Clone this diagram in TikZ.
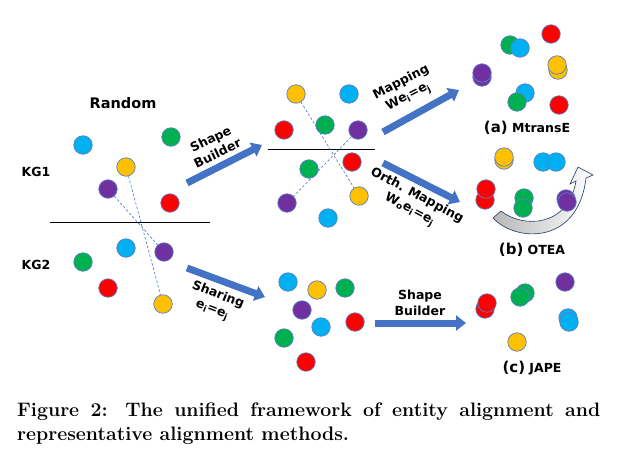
\documentclass[tikz,border=0pt]{standalone}
\usepackage{fontspec}
\setsansfont{DejaVu Sans}
\usetikzlibrary{arrows.meta}
\definecolor{kgBlue}{HTML}{00B0F0}
\definecolor{kgGreen}{HTML}{00B050}
\definecolor{kgYellow}{HTML}{FFC000}
\definecolor{kgPurple}{HTML}{7030A0}
\definecolor{kgRed}{HTML}{FF0000}
\definecolor{rimBlue}{HTML}{5B7FC7}
\definecolor{arrowBlue}{HTML}{4472C4}
\definecolor{arcNavy}{HTML}{1F3864}
\newcommand{\mlead}[1]{{\fontsize{15}{17}\selectfont #1}}
\tikzset{
  ent/.style={circle,draw=rimBlue,line width=0.7pt,minimum size=18.5pt,inner sep=0pt},
  eBlue/.style={ent,fill=kgBlue},
  eGreen/.style={ent,fill=kgGreen},
  eYellow/.style={ent,fill=kgYellow},
  ePurple/.style={ent,fill=kgPurple},
  eRed/.style={ent,fill=kgRed},
  kglabel/.style={font=\sffamily\bfseries\fontsize{12.5}{15}\selectfont},
  steplabel/.style={font=\sffamily\bfseries\fontsize{12.5}{15.5}\selectfont,align=center,inner sep=0pt},
  methlabel/.style={font=\sffamily\bfseries\fontsize{12.5}{15}\selectfont},
  blockarrow/.style={-{Triangle[length=10pt,width=15pt]},line width=7pt,draw=arrowBlue},
  alignline/.style={draw=arrowBlue,line width=0.6pt,dash pattern=on 2.5pt off 2pt},
  divider/.style={draw=black,line width=0.8pt},
  swing/.style={draw=arcNavy,line width=0.6pt,left color=black!28,right color=white},
  caption/.style={anchor=north west,text width=583pt,align=justify,inner sep=0pt,
                  font=\rmfamily\bfseries\fontsize{19.5}{24}\selectfont},
}
\begin{document}
\begin{tikzpicture}[x=1pt,y=-1pt]
  \useasboundingbox (0,0) rectangle (617,466);
  % ---- random embeddings ----
  \node[kglabel,font=\sffamily\bfseries\fontsize{14.5}{17}\selectfont] (random) at (123,103) {Random};
  \node[kglabel] (kgOne) at (36,172) {KG1};
  \node[kglabel] (kgTwo) at (36,265) {KG2};
  \node[eBlue] (rBlue1) at (83,145) {};
  \node[eGreen] (rGreen1) at (171,137) {};
  \node[eYellow] (rYellow1) at (126,167) {};
  \node[ePurple] (rPurple1) at (108,189) {};
  \node[eRed] (rRed1) at (170,203) {};
  \node[eBlue] (rBlue2) at (126,248) {};
  \node[ePurple] (rPurple2) at (164,252) {};
  \node[eGreen] (rGreen2) at (83,262) {};
  \node[eRed] (rRed2) at (108,288) {};
  \node[eYellow] (rYellow2) at (163,304) {};
  \coordinate (rSepL) at (50,222);
  \coordinate (rSepR) at (210,222);
  % ---- after shape builder ----
  \node[eYellow] (sYellow1) at (296,94) {};
  \node[eBlue] (sBlue1) at (349,94) {};
  \node[eRed] (sRed1) at (284,130) {};
  \node[eGreen] (sGreen1) at (325,125) {};
  \node[ePurple] (sPurple1) at (358,130) {};
  \node[eRed] (sRed2) at (352,162) {};
  \node[eGreen] (sGreen2) at (309,169) {};
  \node[eYellow] (sYellow2) at (359,196) {};
  \node[ePurple] (sPurple2) at (287,203) {};
  \node[eBlue] (sBlue2) at (328,218) {};
  \coordinate (sSepL) at (268,149);
  \coordinate (sSepR) at (375,149);
  % ---- (a) MtransE ----
  \node[eRed] (mRed1) at (551,34) {};
  \node[eGreen] (mGreen1) at (510,45) {};
  \node[eBlue] (mBlue1) at (520,48) {};
  \node[eYellow] (mYellow1) at (558,70) {};
  \node[eYellow] (mYellow2) at (557,65) {};
  \node[ePurple] (mPurple1) at (482,77) {};
  \node[ePurple] (mPurple2) at (482,73) {};
  \node[eBlue] (mBlue2) at (525,93) {};
  \node[eGreen] (mGreen2) at (517,102) {};
  \node[eRed] (mRed2) at (559,105) {};
  \node[methlabel] (mtrans) at (527,128) {\mlead{(a)} MtransE};
  % ---- (b) OTEA ----
  \draw[swing] (493,218) .. controls (515,242) and (578,246) .. (586,178)
    -- (593,175) -- (578,167) -- (570,184) -- (576,181)
    .. controls (568,228) and (522,228) .. (501,211) -- cycle;
  \node[eYellow] (oYellow1) at (504,160) {};
  \node[eYellow] (oYellow2) at (504,157) {};
  \node[eBlue] (oBlue1) at (543,162) {};
  \node[eBlue] (oBlue2) at (556,162) {};
  \node[eRed] (oRed1) at (485,200) {};
  \node[eRed] (oRed2) at (486,189) {};
  \node[eGreen] (oGreen1) at (524,198) {};
  \node[eGreen] (oGreen2) at (523,208) {};
  \node[ePurple] (oPurple1) at (566,199) {};
  \node[ePurple] (oPurple2) at (567,202) {};
  \node[methlabel] (otea) at (532,250) {\mlead{(b)} OTEA};
  % ---- shared embeddings ----
  \node[eBlue] (dBlue1) at (288,282) {};
  \node[eYellow] (dYellow) at (317,290) {};
  \node[eGreen] (dGreen1) at (345,288) {};
  \node[ePurple] (dPurple) at (302,310) {};
  \node[eBlue] (dBlue2) at (321,327) {};
  \node[eRed] (dRed1) at (355,322) {};
  \node[eGreen] (dGreen2) at (284,338) {};
  \node[eRed] (dRed2) at (306,362) {};
  % ---- (c) JAPE ----
  \node[eRed] (jRed1) at (485,309) {};
  \node[eRed] (jRed2) at (487,303) {};
  \node[eGreen] (jGreen1) at (525,293) {};
  \node[eGreen] (jGreen2) at (520,297) {};
  \node[ePurple] (jPurple) at (565,282) {};
  \node[eBlue] (jBlue1) at (568,318) {};
  \node[eBlue] (jBlue2) at (569,322) {};
  \node[eYellow] (jYellow) at (517,342) {};
  \node[methlabel] (jape) at (532,368) {\mlead{(c)} JAPE};
  % ---- arrow ends ----
  \coordinate (sbTail) at (187,183);
  \coordinate (sbHead) at (262,145);
  \coordinate (mapTail) at (383,132);
  \coordinate (mapHead) at (459,90);
  \coordinate (orthTail) at (383,163);
  \coordinate (orthHead) at (460,202);
  \coordinate (shTail) at (187,268);
  \coordinate (shHead) at (265,297);
  \coordinate (jbTail) at (375,323);
  \coordinate (jbHead) at (466,323);
  % ---- step labels ----
  \node[steplabel,rotate=26] (sbLabel) at (214,146) {Shape\\Builder};
  \node[steplabel,rotate=27] (mapLabel) at (405,90) {Mapping\\We\textsubscript{i}=e\textsubscript{j}};
  \node[steplabel,rotate=-28] (orthLabel) at (413,203) {Orth. Mapping\\W\textsubscript{o}e\textsubscript{i}=e\textsubscript{j}};
  \node[steplabel,rotate=-21] (shLabel) at (215,303) {Sharing\\e\textsubscript{i}=e\textsubscript{j}};
  \node[steplabel] (jbLabel) at (420,303) {Shape\\Builder};
  % ---- lines and arrows ----
  \draw[divider] (rSepL) -- (rSepR);
  \draw[divider] (sSepL) -- (sSepR);
  \draw[alignline] (rYellow1) -- (rYellow2);
  \draw[alignline] (rPurple1) -- (rPurple2);
  \draw[alignline] (sYellow1) -- (sYellow2);
  \draw[alignline] (sPurple1) -- (sPurple2);
  \draw[blockarrow] (sbTail) -- (sbHead);
  \draw[blockarrow] (mapTail) -- (mapHead);
  \draw[blockarrow] (orthTail) -- (orthHead);
  \draw[blockarrow] (shTail) -- (shHead);
  \draw[blockarrow] (jbTail) -- (jbHead);
  % ---- caption ----
  \node[caption] (cap) at (17,403) {Figure 2: The unified framework of entity alignment and\linebreak representative alignment methods.};
\end{tikzpicture}
\end{document}
